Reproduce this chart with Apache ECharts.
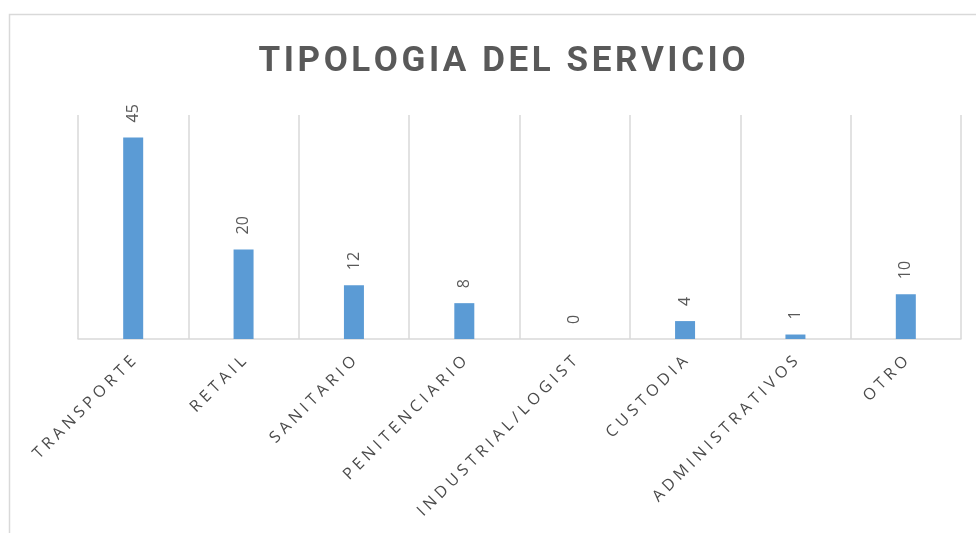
<!DOCTYPE html>
<html>
<head>
<meta charset="utf-8">
<script src="https://cdn.jsdelivr.net/npm/echarts@6/dist/echarts.min.js"></script>
<style>
  html, body { margin: 0; padding: 0; background: #fff; }
  #chart { width: 976px; height: 533px; }
</style>
</head>
<body>
<div id="chart"></div>
<script>
  // datos del gráfico
  var categorias = ["TRANSPORTE", "RETAIL", "SANITARIO", "PENITENCIARIO", "INDUSTRIAL/LOGIST", "CUSTODIA", "ADMINISTRATIVOS", "OTRO"];
  var valores = [45, 20, 12, 8, 0, 4, 1, 10];
  var titulo = "TIPOLOGIA DEL SERVICIO";

  // espaciado entre letras (el canvas no lo hace solo)
  function espaciar(txt, sep) {
    return txt.split("").join(sep);
  }

  var myChart = echarts.init(document.getElementById("chart"));

  var option = {
    color: ["#5b9bd5"],
    title: {
      text: espaciar(titulo, "\u200a"),
      left: 497,
      top: 40,
      textAlign: "center",
      textStyle: {
        color: "#595959",
        fontSize: 35,
        fontWeight: "bold",
        fontFamily: "Roboto"
      }
    },
    graphic: [
      {
        type: "rect",
        shape: { x: 9.5, y: 14.5, width: 1000, height: 600 },
        style: { fill: "none", stroke: "#d9d9d9", lineWidth: 1.5 },
        silent: true
      }
    ],
    grid: {
      left: 78,
      right: 15,
      top: 115,
      bottom: 194,
      containLabel: false
    },
    xAxis: {
      type: "category",
      data: categorias,
      axisTick: { show: false },
      axisLine: { lineStyle: { color: "#d9d9d9", width: 1.5 } },
      splitLine: {
        show: true,
        interval: 0,
        lineStyle: { color: "#d9d9d9", width: 1.5 }
      },
      axisLabel: {
        interval: 0,
        rotate: 45,
        margin: 20,
        color: "#4a4a4a",
        fontSize: 16,
        fontFamily: "Open Sans",
        formatter: function (v) { return espaciar(v, "\u2009\u200a"); }
      }
    },
    yAxis: {
      type: "value",
      min: 0,
      max: 50,
      show: false,
      splitLine: { show: false }
    },
    series: [
      {
        type: "bar",
        data: valores,
        barWidth: 20,
        label: {
          show: true,
          position: "top",
          rotate: 90,
          align: "left",
          verticalAlign: "middle",
          distance: 15,
          color: "#595959",
          fontSize: 16,
          fontFamily: "Open Sans"
        }
      }
    ]
  };

  myChart.setOption(option);
</script>
</body>
</html>
